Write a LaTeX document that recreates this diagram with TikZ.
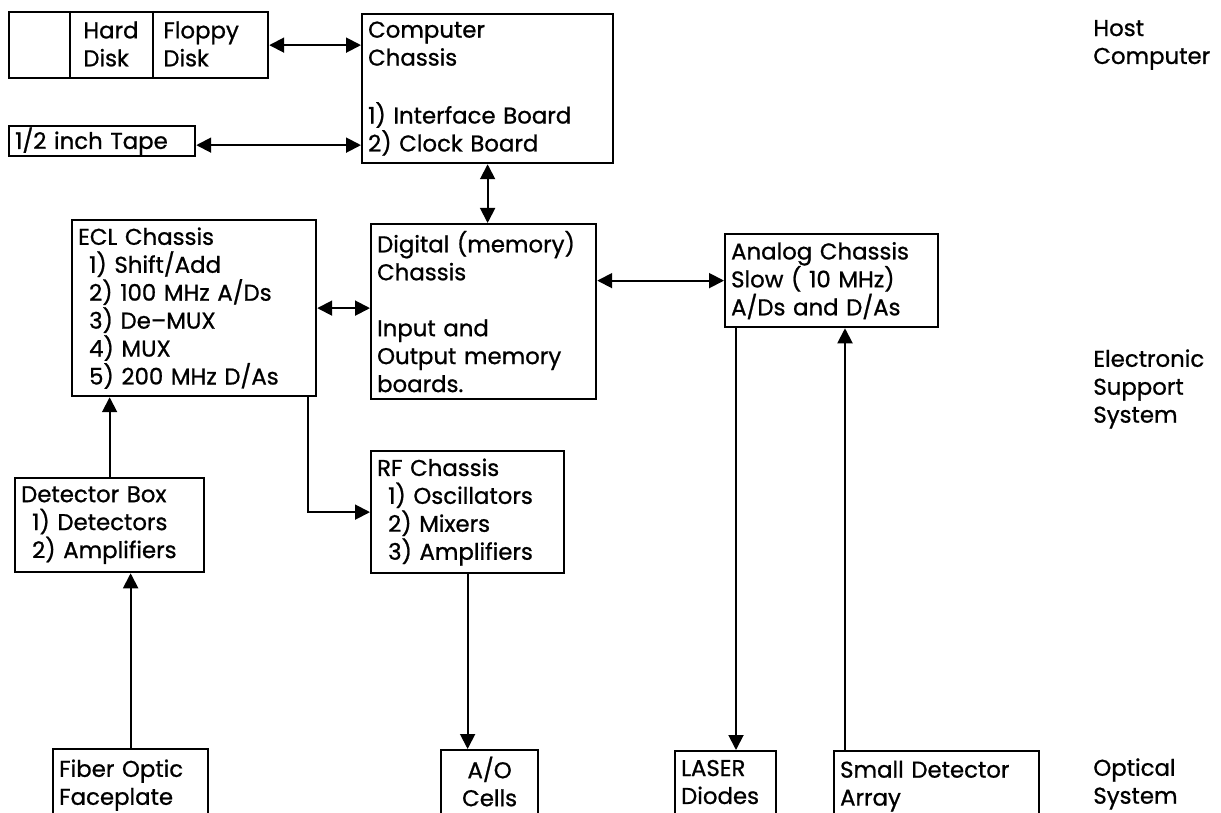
\documentclass[tikz,border=0pt]{standalone}
\usepackage{fontspec}
\setmainfont{Poppins}[FakeBold=0.9]
\usetikzlibrary{arrows.meta}

\newcommand{\itemind}{\hspace*{0.22cm}}

\begin{document}
\begin{tikzpicture}[
	x=0.02cm, y=-0.02cm,
	font=\fontsize{13}{15.9}\selectfont,
	box/.style={
		draw=black,
		line width=1.3pt,
		anchor=north west,
		align=left,
		inner xsep=0.12cm,
		inner ysep=0pt
	},
	label/.style={anchor=west, align=left, inner sep=0pt},
	arrow/.style={-{Triangle[length=0.3cm, width=0.3cm]}, line width=1.1pt},
	biarrow/.style={{Triangle[length=0.3cm, width=0.3cm]}-{Triangle[length=0.3cm, width=0.3cm]}, line width=1.1pt}
]

\clip (0,0) rectangle (1221,813);

% Host computer
\node[box, minimum width=5.18cm, minimum height=1.32cm] (disks) at (8,11) {};
\draw[line width=1.3pt] ([xshift=1.24cm]disks.north west) -- ([xshift=1.24cm]disks.south west);
\draw[line width=1.3pt] ([xshift=2.9cm]disks.north west) -- ([xshift=2.9cm]disks.south west);
\node[label] (hard) at (83,44) {Hard\\Disk};
\node[label] (floppy) at (163,44) {Floppy\\Disk};

\node[box, text width=4.78cm, minimum height=2.98cm] (comp) at (361,13) {
	Computer\\Chassis\\[0.6cm]
	1) Interface Board\\
	2) Clock Board
};

\node[box, text width=3.48cm, minimum height=0.6cm] (tape) at (8,125) {1/2 inch Tape};

% Electronic support system
\node[box, text width=4.64cm, minimum height=3.52cm] (ecl) at (71,219) {
	ECL Chassis\\
	\itemind 1) Shift/Add\\
	\itemind 2) 100 MHz A/Ds\\
	\itemind 3) De--MUX\\
	\itemind 4) MUX\\
	\itemind 5) 200 MHz D/As
};

\node[box, text width=4.26cm, minimum height=3.5cm] (digital) at (370,223) {
	Digital (memory)\\
	Chassis\\[0.56cm]
	Input and\\
	Output memory\\
	boards.
};

\node[box, text width=4.02cm, minimum height=1.86cm] (analog) at (724,233) {
	Analog Chassis\\
	Slow ( 10 MHz)\\
	A/Ds and D/As
};

\node[box, text width=3.54cm, minimum height=1.88cm] (detector) at (14,477) {
	Detector Box\\
	\itemind 1) Detectors\\
	\itemind 2) Amplifiers
};

\node[box, text width=3.62cm, minimum height=2.44cm] (rf) at (370,450) {
	RF Chassis\\
	\itemind 1) Oscillators\\
	\itemind 2) Mixers\\
	\itemind 3) Amplifiers
};

% Optical system
\node[box, text width=2.86cm, minimum height=1.44cm] (fiber) at (52,748) {Fiber Optic\\Faceplate};
\node[box, text width=1.7cm, minimum height=1.42cm, align=center] (ao) at (440,749) {A/O\\Cells\strut};
\node[box, text width=1.78cm, minimum height=1.4cm] (laser) at (674,750) {LASER\\Diodes\strut};
\node[box, text width=3.86cm, minimum height=1.4cm] (smalldet) at (833,750) {Small Detector\\Array};

% Side labels
\node[label] (host) at (1093,45) {Host\\Computer};
\node[label] (ess) at (1093,389) {Electronic\\Support\\System};
\node[label] (optical) at (1093,784) {Optical\\System};

% Connections
\draw[biarrow] (disks.east) -- (disks.east -| comp.west);
\draw[biarrow] ([yshift=-0.08cm]tape.east) -- ([yshift=-0.08cm]tape.east -| comp.west);
\draw[biarrow] (comp.south) -- (comp.south |- digital.north);
\draw[biarrow] (ecl.east) -- (ecl.east -| digital.west);
\draw[biarrow] (digital.east |- analog.west) -- (analog.west);
\draw[arrow] ([xshift=-0.18cm]ecl.south east) |- (rf.west);
\draw[arrow] (detector.north) -- (detector.north |- ecl.south);
\draw[arrow] (fiber.north) -- (fiber.north |- detector.south);
\draw[arrow] (rf.south) -- (rf.south |- ao.north);
\draw[arrow] ([xshift=0.24cm]analog.south west) -- ([xshift=0.24cm]analog.south west |- laser.north);
\draw[arrow] ([xshift=0.24cm]smalldet.north west) -- ([xshift=0.24cm]smalldet.north west |- analog.south);

\end{tikzpicture}
\end{document}
